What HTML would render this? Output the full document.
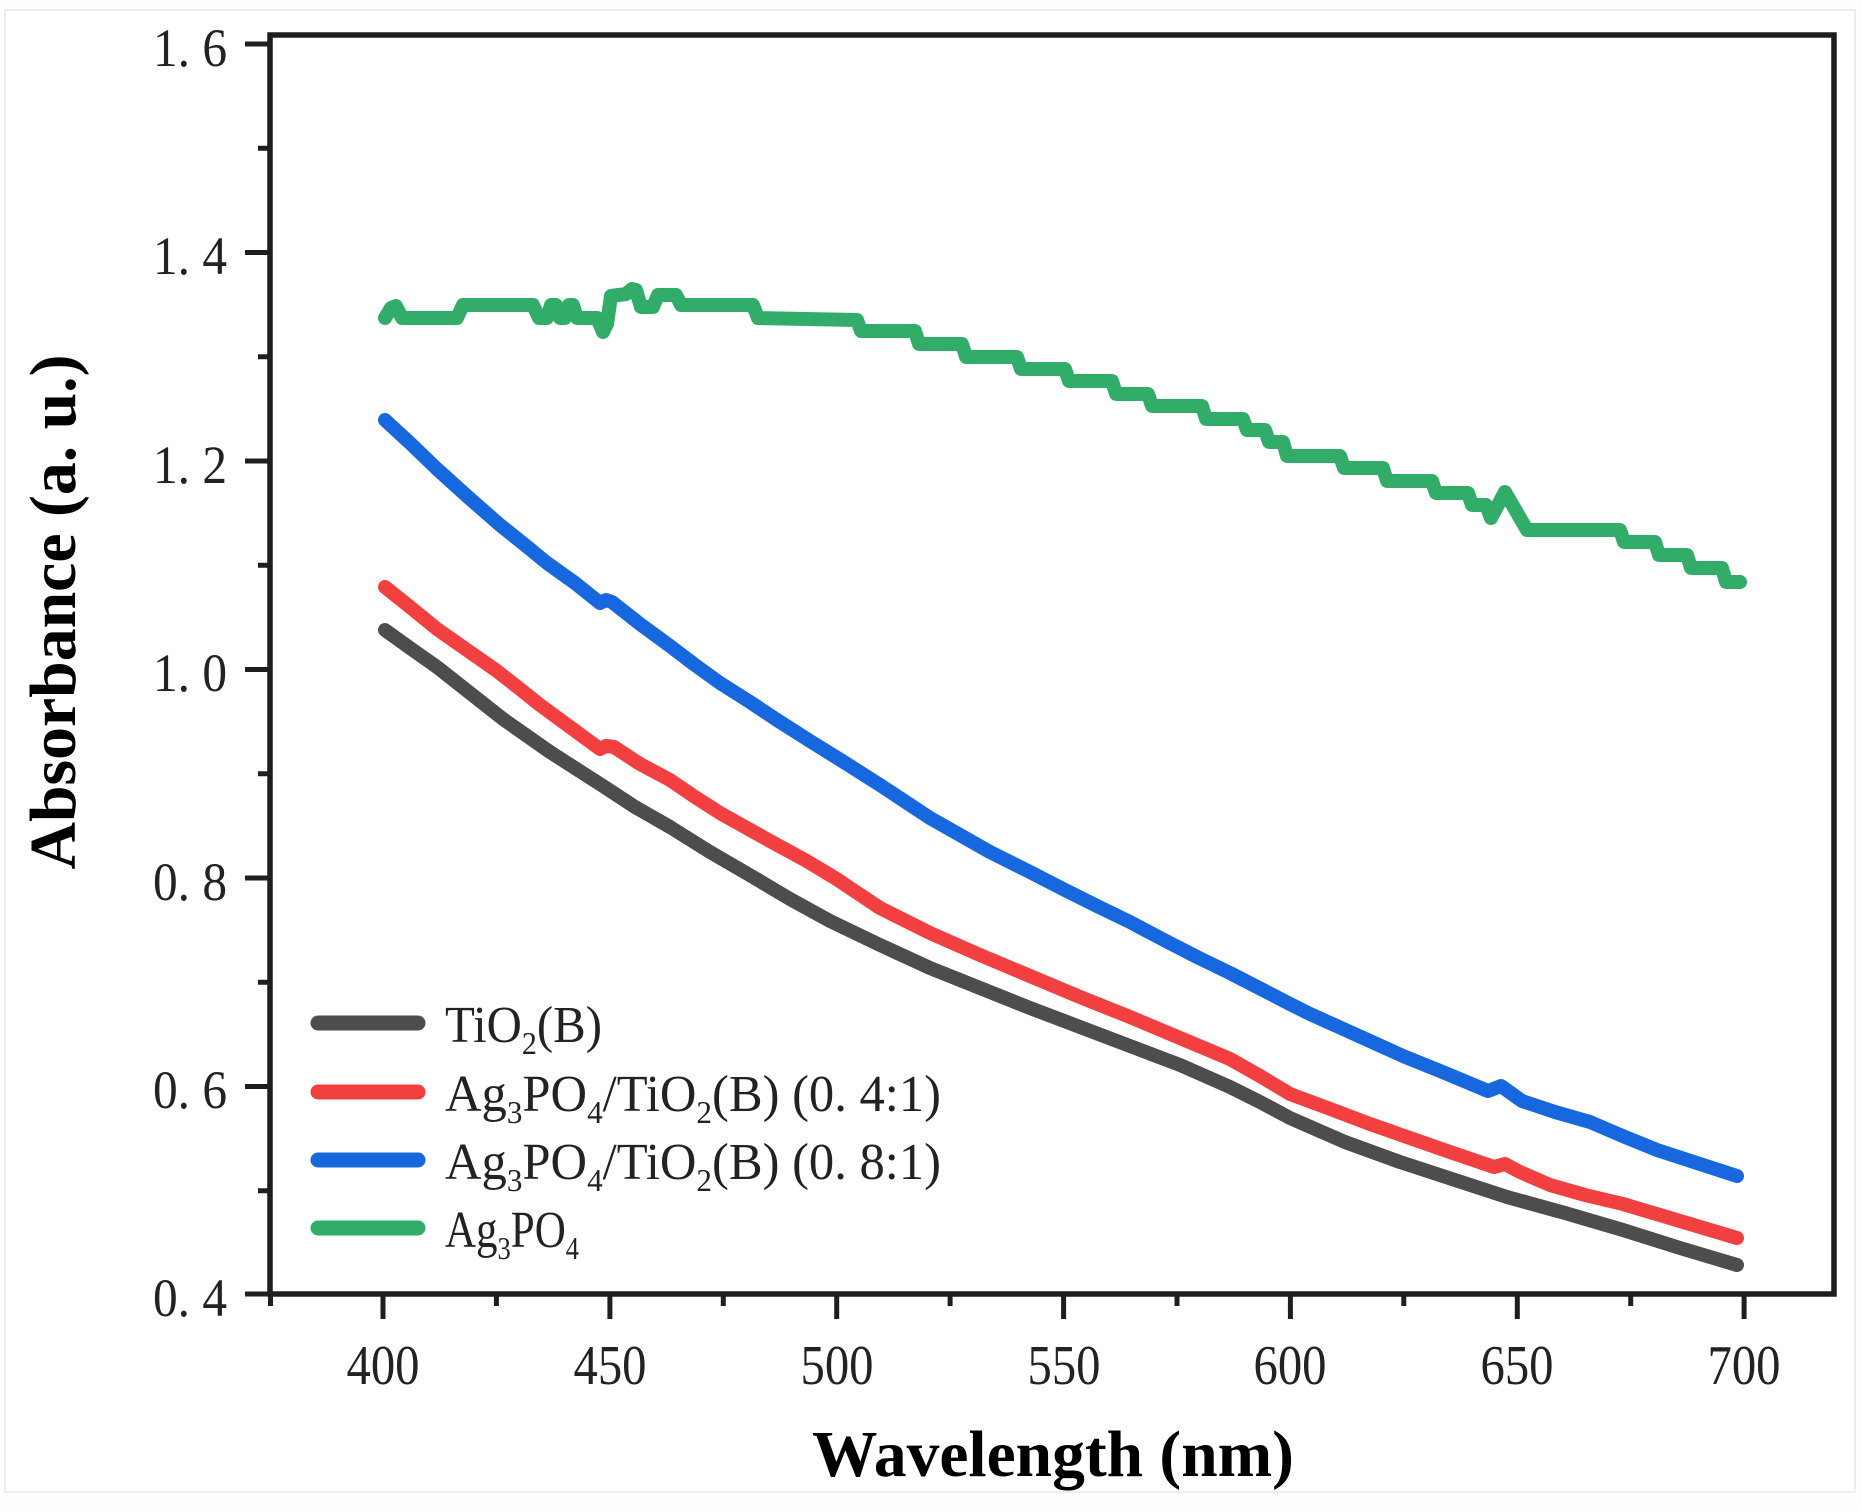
<!DOCTYPE html>
<html>
<head>
<meta charset="utf-8">
<style>
html,body{margin:0;padding:0;background:#ffffff;}
svg{display:block;}
</style>
</head>
<body>
<svg width="1861" height="1511" viewBox="0 0 1861 1511" xmlns="http://www.w3.org/2000/svg">
  <rect x="0" y="0" width="1861" height="1511" fill="#fefefe"/>
  <rect x="5" y="10" width="1850" height="1482" fill="#ffffff" stroke="#eeeeee" stroke-width="2"/>

  <!-- plot area -->
  <rect x="270" y="35" width="1564" height="1259" fill="#ffffff"/>

  <!-- data series -->
  <g fill="none" stroke-linecap="round" stroke-linejoin="round" stroke-width="14">
    <!-- Ag3PO4 (green, stepped) -->
    <polyline stroke="#31ad69" points="
      385,318 391,308 396,306 402,318 457,318 463,305 533,305 539,318 547,318 551,305 556,305 560,318 565,318 569,305 573,305 577,318 597,318 603,332 607,324 611,296 626,294 632,289 636,290 641,307 653,307 658,295 676,295 681,305 753,305 758,318
      857,320 861,331 915,331 919,344 962,344 966,357 1017,357 1021,369 1065,369 1069,381 1112,381 1116,394 1148,394 1152,406 1202,406 1206,419 1243,419 1247,430 1265,430 1269,442 1283,442 1287,456
      1340,456 1344,468 1383,468 1387,481 1432,481 1436,493 1468,493 1472,505 1486,505 1491,518 1505,492 1527,530 1620,530 1624,542 1655,542 1659,555 1687,555 1691,568 1722,568 1726,582 1740,582"/>
    <!-- Ag3PO4/TiO2(B) (0.8:1) blue -->
    <polyline stroke="#1767de" points="
      385,420 410,443 437,469 468,497 500,525 525,545 547,563 575,583 600,603 606,600 612,602 640,624 670,646 695,665 720,683 750,702 777,720 810,741 847,764
      880,785 930,818 990,852 1030,872 1063,889 1097,906 1130,922 1164,940 1197,957 1230,973 1263,990 1290,1004 1310,1014
      1350,1032 1403,1056 1445,1073 1488,1091 1501,1086 1522,1101 1555,1112 1590,1122 1625,1137 1657,1150 1700,1164 1737,1176"/>
    <!-- Ag3PO4/TiO2(B) (0.4:1) red -->
    <polyline stroke="#f23f40" points="
      385,587 410,607 437,629 467,650 497,671 520,689 540,705 570,727 600,749 606,746 614,747 640,764 670,780 695,797 720,813 745,827 770,841 805,860 835,878
      880,908 930,933 980,955 1030,976 1080,997 1130,1017 1180,1038 1230,1059 1260,1076 1290,1094 1333,1110
      1370,1124 1407,1137 1450,1152 1494,1167 1505,1164 1520,1172 1550,1185 1585,1195 1623,1204 1680,1221 1737,1238"/>
    <!-- TiO2(B) black -->
    <polyline stroke="#4d4d4d" points="
      385,630 410,648 437,667 470,693 503,719 550,752 603,786 635,807 670,827 710,852 753,877 790,899 830,921
      880,945 930,968 980,988 1030,1008 1080,1027 1130,1046 1180,1065 1230,1087 1260,1102 1290,1118
      1345,1142 1400,1162 1455,1180 1507,1197 1565,1213 1623,1230 1680,1248 1737,1265"/>
  </g>

  <!-- axes frame -->
  <rect x="270" y="35" width="1564" height="1259" fill="none" stroke="#1e1e1e" stroke-width="5.5"/>

  <!-- y ticks -->
  <g stroke="#1e1e1e" stroke-width="5">
    <line x1="245" y1="1294" x2="270" y2="1294"/>
    <line x1="258" y1="1190.75" x2="270" y2="1190.75"/>
    <line x1="245" y1="1086.5" x2="270" y2="1086.5"/>
    <line x1="258" y1="982.25" x2="270" y2="982.25"/>
    <line x1="245" y1="878" x2="270" y2="878"/>
    <line x1="258" y1="773.75" x2="270" y2="773.75"/>
    <line x1="245" y1="669.5" x2="270" y2="669.5"/>
    <line x1="258" y1="565.25" x2="270" y2="565.25"/>
    <line x1="245" y1="461" x2="270" y2="461"/>
    <line x1="258" y1="356.75" x2="270" y2="356.75"/>
    <line x1="245" y1="252.5" x2="270" y2="252.5"/>
    <line x1="258" y1="148.25" x2="270" y2="148.25"/>
    <line x1="245" y1="44" x2="270" y2="44"/>
  </g>

  <!-- x ticks -->
  <g stroke="#1e1e1e" stroke-width="5">
    <line x1="270.5" y1="1294" x2="270.5" y2="1306"/>
    <line x1="383" y1="1294" x2="383" y2="1319"/>
    <line x1="496.4" y1="1294" x2="496.4" y2="1306"/>
    <line x1="609.9" y1="1294" x2="609.9" y2="1319"/>
    <line x1="723.3" y1="1294" x2="723.3" y2="1306"/>
    <line x1="836.7" y1="1294" x2="836.7" y2="1319"/>
    <line x1="950.1" y1="1294" x2="950.1" y2="1306"/>
    <line x1="1063.6" y1="1294" x2="1063.6" y2="1319"/>
    <line x1="1177" y1="1294" x2="1177" y2="1306"/>
    <line x1="1290.4" y1="1294" x2="1290.4" y2="1319"/>
    <line x1="1403.8" y1="1294" x2="1403.8" y2="1306"/>
    <line x1="1517.3" y1="1294" x2="1517.3" y2="1319"/>
    <line x1="1630.7" y1="1294" x2="1630.7" y2="1306"/>
    <line x1="1744.1" y1="1294" x2="1744.1" y2="1319"/>
  </g>

  <!-- y tick labels -->
  <g font-family="'Liberation Serif', 'Noto Serif CJK SC', serif" font-size="54" fill="#222222" text-anchor="end">
    <text x="227" y="1316" textLength="74" lengthAdjust="spacingAndGlyphs">0. 4</text>
    <text x="227" y="1108" textLength="74" lengthAdjust="spacingAndGlyphs">0. 6</text>
    <text x="227" y="900" textLength="74" lengthAdjust="spacingAndGlyphs">0. 8</text>
    <text x="227" y="691" textLength="74" lengthAdjust="spacingAndGlyphs">1. 0</text>
    <text x="227" y="483" textLength="74" lengthAdjust="spacingAndGlyphs">1. 2</text>
    <text x="227" y="274" textLength="74" lengthAdjust="spacingAndGlyphs">1. 4</text>
    <text x="227" y="66" textLength="74" lengthAdjust="spacingAndGlyphs">1. 6</text>
  </g>

  <!-- x tick labels -->
  <g font-family="'Liberation Serif', serif" font-size="56" fill="#222222" text-anchor="middle">
    <text x="383" y="1384" textLength="73" lengthAdjust="spacingAndGlyphs">400</text>
    <text x="610" y="1384" textLength="73" lengthAdjust="spacingAndGlyphs">450</text>
    <text x="837" y="1384" textLength="73" lengthAdjust="spacingAndGlyphs">500</text>
    <text x="1064" y="1384" textLength="73" lengthAdjust="spacingAndGlyphs">550</text>
    <text x="1290" y="1384" textLength="73" lengthAdjust="spacingAndGlyphs">600</text>
    <text x="1517" y="1384" textLength="73" lengthAdjust="spacingAndGlyphs">650</text>
    <text x="1744" y="1384" textLength="73" lengthAdjust="spacingAndGlyphs">700</text>
  </g>

  <!-- axis titles -->
  <text x="1053" y="1476" font-family="'Liberation Serif', serif" font-weight="bold" font-size="66" fill="#000000" text-anchor="middle" textLength="482" lengthAdjust="spacingAndGlyphs">Wavelength (nm)</text>
  <text transform="translate(75,612) rotate(-90)" x="0" y="0" font-family="'Liberation Serif', serif" font-weight="bold" font-size="66" fill="#000000" text-anchor="middle" textLength="515" lengthAdjust="spacingAndGlyphs">Absorbance (a. u.)</text>

  <!-- legend -->
  <g stroke-linecap="round" stroke-width="15" fill="none">
    <line x1="318" y1="1023" x2="418" y2="1023" stroke="#4d4d4d"/>
    <line x1="318" y1="1092" x2="418" y2="1092" stroke="#f23f40"/>
    <line x1="318" y1="1160" x2="418" y2="1160" stroke="#1767de"/>
    <line x1="318" y1="1228" x2="418" y2="1228" stroke="#31ad69"/>
  </g>
  <g font-family="'Liberation Serif', serif" font-size="52" fill="#222222">
    <text x="445" y="1042" textLength="157" lengthAdjust="spacingAndGlyphs">TiO<tspan font-size="32" dy="12">2</tspan><tspan dy="-12">(B)</tspan></text>
    <text x="445" y="1111" textLength="496" lengthAdjust="spacingAndGlyphs">Ag<tspan font-size="32" dy="12">3</tspan><tspan dy="-12">PO</tspan><tspan font-size="32" dy="12">4</tspan><tspan dy="-12">/TiO</tspan><tspan font-size="32" dy="12">2</tspan><tspan dy="-12">(B) (0. 4:1)</tspan></text>
    <text x="445" y="1179" textLength="496" lengthAdjust="spacingAndGlyphs">Ag<tspan font-size="32" dy="12">3</tspan><tspan dy="-12">PO</tspan><tspan font-size="32" dy="12">4</tspan><tspan dy="-12">/TiO</tspan><tspan font-size="32" dy="12">2</tspan><tspan dy="-12">(B) (0. 8:1)</tspan></text>
    <text x="445" y="1247" textLength="134" lengthAdjust="spacingAndGlyphs">Ag<tspan font-size="32" dy="12">3</tspan><tspan dy="-12">PO</tspan><tspan font-size="32" dy="12">4</tspan></text>
  </g>
</svg>
</body>
</html>
